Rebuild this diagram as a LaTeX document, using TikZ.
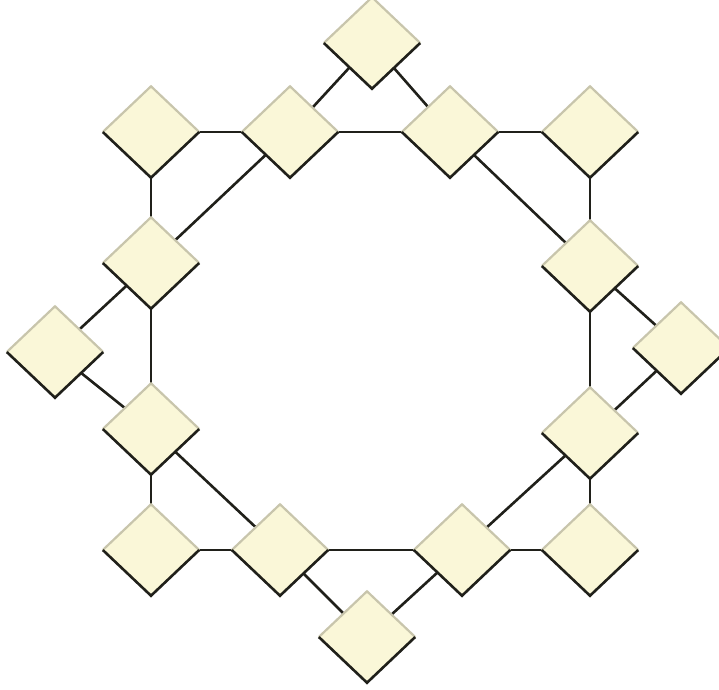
\documentclass[tikz,border=0pt]{standalone}
\usetikzlibrary{shapes.geometric,backgrounds}
\definecolor{dfill}{RGB}{250,247,216}
\definecolor{dlight}{RGB}{200,197,172}
\definecolor{ddark}{RGB}{32,32,26}
\tikzset{
  dia/.style={diamond,shape aspect=1.05,minimum width=96pt,minimum height=91pt,inner sep=0pt,fill=dfill,draw=none},
  conn/.style={draw=ddark,line width=2.6pt},
  lightedge/.style={draw=dlight,line width=2.2pt,line join=miter},
  darkedge/.style={draw=ddark,line width=2.6pt,line join=miter}
}
\begin{document}
\begin{tikzpicture}[x=1pt,y=-1pt]
\useasboundingbox (0,0) rectangle (719,689);
\clip (0,0) rectangle (719,689);
\node[dia] (T)   at (372,43) {};
\node[dia] (TL)  at (151,132) {};
\node[dia] (T2L) at (290,132) {};
\node[dia] (T2R) at (450,132) {};
\node[dia] (TR)  at (590,132) {};
\node[dia] (L2)  at (151,263) {};
\node[dia] (R2)  at (590,266) {};
\node[dia] (L)   at (55,352) {};
\node[dia] (R)   at (681,348) {};
\node[dia] (L3)  at (151,429) {};
\node[dia] (R3)  at (590,433) {};
\node[dia] (BL)  at (151,550) {};
\node[dia] (B2L) at (280,550) {};
\node[dia] (B2R) at (462,550) {};
\node[dia] (BR)  at (590,550) {};
\node[dia] (B)   at (367,637) {};
\foreach \n in {T,TL,T2L,T2R,TR,L2,R2,L,R,L3,R3,BL,B2L,B2R,BR,B}{
  \draw[lightedge] (\n.west) -- (\n.north) -- (\n.east);
  \draw[darkedge] (\n.west) -- (\n.south) -- (\n.east);
}
\begin{scope}[on background layer]
\fill[white] (0,0) rectangle (719,689);
\foreach \a/\b in {T2L/T2R,T2R/R2,R2/R3,R3/B2R,B2R/B2L,B2L/L3,L3/L2,L2/T2L,
  TL/T2L,TL/L2,T/T2L,T/T2R,T2R/TR,TR/R2,R2/R,R/R3,R3/BR,BR/B2R,B2R/B,B/B2L,B2L/BL,BL/L3,L3/L,L/L2}{
  \draw[conn] (\a.center) -- (\b.center);
}
\end{scope}
\end{tikzpicture}
\end{document}
